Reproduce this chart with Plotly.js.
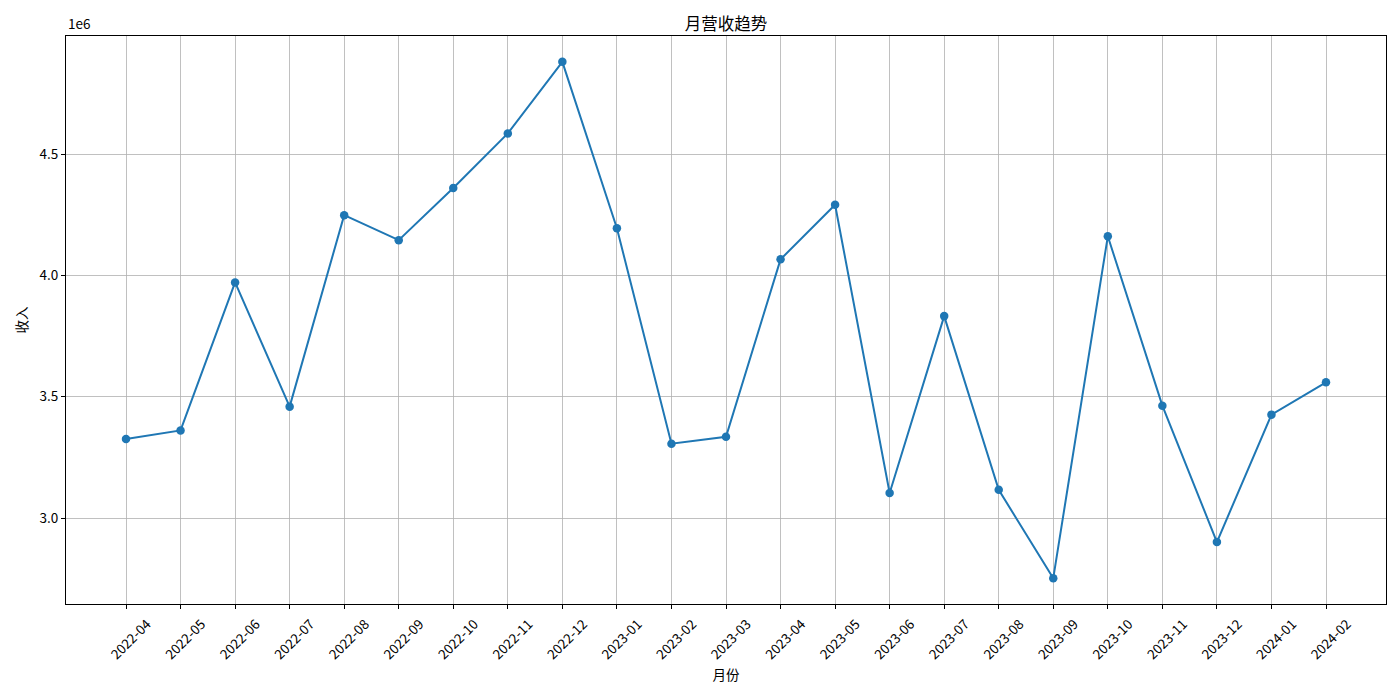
<!DOCTYPE html>
<html>
<head>
<meta charset="utf-8">
<script src="https://cdn.plot.ly/plotly-3.0.1.min.js"></script>
<style>html,body{margin:0;padding:0;background:#fff}#chart{width:1400px;height:700px}</style>
</head>
<body>
<div id="chart"></div>
<script>
const months = ["2022-04","2022-05","2022-06","2022-07","2022-08","2022-09","2022-10","2022-11","2022-12","2023-01","2023-02","2023-03","2023-04","2023-05","2023-06","2023-07","2023-08","2023-09","2023-10","2023-11","2023-12","2024-01","2024-02"];
const revenue = [3326000,3361000,3971000,3459000,4248000,4145000,4360000,4585000,4880000,4194000,3306000,3335000,4066000,4291000,3103000,3832000,3116000,2752000,4161000,3463000,2901000,3426000,3559000];
const yTickVals = [3000000,3500000,4000000,4500000];
const yTickText = ["3.0","3.5","4.0","4.5"];

const FONT = '"Noto Sans CJK SC", "DejaVu Sans", sans-serif';

const trace = {
  x: months,
  y: revenue,
  type: 'scatter',
  mode: 'lines+markers',
  line: {color: '#1f77b4', width: 2},
  marker: {color: '#1f77b4', size: 8.5},
  hoverinfo: 'none'
};

const layout = {
  width: 1400, height: 700,
  margin: {l: 66, r: 14, t: 36, b: 96, pad: 0},
  paper_bgcolor: '#fff', plot_bgcolor: '#fff',
  font: {family: FONT, size: 13.5, color: '#000'},
  showlegend: false,
  title: {text: '月营收趋势', font: {family: FONT, size: 16.5, color: '#000'}, xref: 'paper', x: 0.5, xanchor: 'center', yref: 'container', y: 0.966, yanchor: 'middle'},
  xaxis: {
    type: 'category',
    range: [-1.1, months.length - 1 + 1.1],
    showgrid: true, gridcolor: '#b0b0b0', gridwidth: 0.8,
    showline: true, linecolor: '#000', linewidth: 1, mirror: true,
    ticks: 'outside', ticklen: 4, tickcolor: '#000', tickwidth: 1,
    tickangle: -45,
    ticklabelshift: 21,
    ticklabelstandoff: 2,
    tickfont: {family: FONT, size: 13.5, color: '#000'},
    title: {text: '月份', font: {family: FONT, size: 13.5, color: '#000'}, standoff: 8},
    zeroline: false, automargin: false
  },
  yaxis: {
    range: [2645600, 4986400],
    tickvals: yTickVals, ticktext: yTickText,
    showgrid: true, gridcolor: '#b0b0b0', gridwidth: 0.8,
    showline: true, linecolor: '#000', linewidth: 1, mirror: true,
    ticks: 'outside', ticklen: 4, tickcolor: '#000', tickwidth: 1,
    tickfont: {family: FONT, size: 13.5, color: '#000'},
    title: {text: '收入', font: {family: FONT, size: 13.5, color: '#000'}, standoff: 8},
    zeroline: false, automargin: false
  },
  annotations: [{
    text: '1e6', xref: 'paper', yref: 'paper', x: 0, y: 1, xanchor: 'left', yanchor: 'bottom',
    yshift: 1, showarrow: false, font: {family: FONT, size: 13.5, color: '#000'}
  }]
};

Plotly.newPlot('chart', [trace], layout, {staticPlot: true, displayModeBar: false});
</script>
</body>
</html>
